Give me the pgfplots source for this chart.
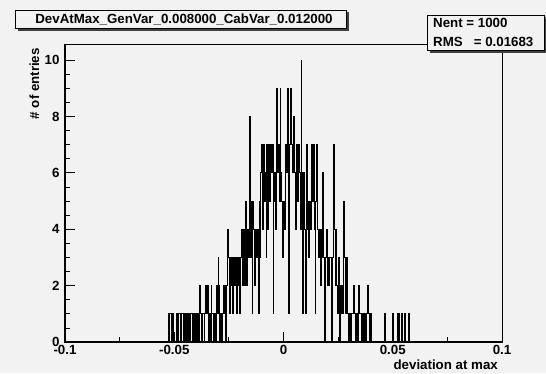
\documentclass[border=0pt]{standalone}
\usepackage{fontspec}
\setmainfont{Liberation Sans}
\usepackage{pgfplots}
\usepackage{pgfplotstable}
\pgfplotsset{compat=1.18}

\definecolor{canvas}{RGB}{242,242,242}
\newcommand\rootfont{\bfseries\fontsize{13.3bp}{16bp}\selectfont}

% counts per bin; bins are 0.0004 wide, the first one starting at -0.056
\pgfplotstableread[row sep=\\]{
c\\
0\\ 0\\ 0\\ 0\\ 0\\ 0\\ 0\\ 0\\
1\\ 0\\ 1\\ 1\\ 0\\ 1\\ 0\\
0\\ 0\\ 0\\
1\\ 0\\ 1\\ 1\\
0\\
1\\ 1\\ 0\\ 1\\ 0\\ 1\\
0\\
1\\ 0\\ 1\\
0\\
1\\ 1\\
0\\
1\\ 0\\ 1\\ 0\\ 1\\ 1\\
0\\
2\\
1\\ 0\\ 1\\ 1\\ 0\\ 1\\
2\\ 1\\ 2\\ 0\\
1\\ 0\\
2\\
1\\ 1\\ 0\\ 1\\ 0\\
2\\ 1\\
3\\
2\\ 0\\
1\\ 0\\ 1\\
2\\ 1\\ 2\\ 0\\ 2\\
4\\
3\\ 1\\ 3\\
2\\ 3\\ 1\\ 3\\ 2\\ 3\\ 1\\ 3\\ 2\\ 3\\ 1\\ 3\\
4\\ 2\\ 4\\ 2\\
5\\
4\\ 2\\ 4\\ 3\\
8\\ 3\\ 5\\ 1\\ 5\\
4\\ 2\\ 4\\ 3\\ 4\\ 1\\
5\\ 3\\ 6\\ 7\\ 4\\ 7\\ 5\\ 6\\ 3\\
7\\ 4\\ 7\\ 5\\ 7\\ 6\\ 7\\ 1\\
5\\ 6\\ 4\\
9\\ 6\\ 7\\ 5\\ 9\\ 6\\
5\\ 3\\ 5\\ 4\\
7\\ 6\\ 7\\ 9\\ 1\\ 7\\ 9\\ 7\\ 6\\ 8\\ 7\\
6\\ 4\\ 7\\ 5\\ 7\\ 6\\ 4\\
10\\
6\\ 1\\ 6\\
4\\ 1\\ 7\\ 4\\
5\\ 3\\ 5\\ 4\\
7\\ 5\\ 7\\ 4\\ 1\\ 5\\ 7\\
4\\ 3\\ 4\\ 2\\ 4\\ 3\\ 6\\
3\\ 0\\
3\\ 4\\ 2\\ 3\\ 2\\ 3\\
3\\ 0\\ 3\\
7\\
4\\ 2\\ 4\\
2\\ 1\\
3\\ 0\\
2\\ 1\\ 2\\ 1\\
5\\
3\\ 1\\ 3\\
1\\ 0\\ 1\\ 1\\
0\\ 1\\ 1\\
2\\
1\\ 0\\ 1\\ 1\\ 0\\
2\\
1\\ 1\\ 0\\ 1\\ 1\\ 0\\
1\\ 0\\ 1\\
2\\
1\\ 0\\ 1\\ 1\\
0\\ 0\\ 0\\ 0\\ 0\\ 0\\ 0\\ 0\\ 0\\ 0\\ 0\\ 0\\ 0\\ 0\\ 0\\
1\\
0\\ 0\\ 0\\ 0\\ 0\\ 0\\ 0\\ 0\\
1\\
0\\ 0\\ 0\\ 0\\
1\\
0\\
1\\
0\\ 0\\
1\\
0\\ 0\\
1\\
0\\ 0\\ 0\\ 0\\
1\\
0\\ 0\\ 0\\
}\hist

\begin{document}
\begin{tikzpicture}[x=1bp,y=1bp]
  % canvas
  \fill[canvas] (0,0) rectangle (546,373);

  \begin{axis}[
    at={(65bp,31bp)}, anchor=south west,
    scale only axis, width=437bp, height=298bp,
    xmin=-0.1, xmax=0.1, ymin=0, ymax=10.57,
    axis background/.style={fill=canvas},
    xtick={-0.1,-0.05,0,0.05,0.1},
    xticklabels={-0.1,-0.05,0,0.05,0.1},
    minor xtick={-0.075,-0.025,0.025,0.075},
    ytick={0,2,4,6,8,10},
    yticklabels={0,2,4,6,8,10},
    minor y tick num=3,
    tick align=inside,
    xtick pos=left, ytick pos=left,
    major tick length=10bp, minor tick length=5bp,
    tick style={black, line width=0.8bp},
    every tick label/.append style={font=\rootfont},
    yticklabel style={xshift=-2bp},
    axis line style={line width=0.8bp},
    scaled x ticks=false,
    after end axis/.code={
      \draw[line width=1.6bp] (rel axis cs:0,1) -- (rel axis cs:0,0) -- (rel axis cs:1,0);
    },
  ]
    \addplot[black, line width=0.85bp, const plot mark left, mark=none]
      table[x expr={-0.056+0.0004*\coordindex}, y=c]{\hist};
  \end{axis}

  % axis titles
  \node[anchor=base east, font=\rootfont, inner sep=0] at (498,3.5) {deviation at max};
  \node[rotate=90, anchor=base east, font=\rootfont, inner sep=0] at (39,325) {\# of entries};

  % histogram title box
  \fill[black!75] (17.5,342.5) rectangle (348.5,360.5);
  \draw[fill=canvas, line width=0.8bp] (15,345) rectangle (346,363);
  \node[font=\rootfont, inner sep=0] at (184,354) {DevAtMax\_GenVar\_0.008000\_CabVar\_0.012000};

  % statistics box
  \fill[black!75] (429.5,320.5) rectangle (546,355.5);
  \draw[fill=canvas, line width=0.8bp] (427,323) rectangle (544.5,358);
  \node[anchor=base west, font=\rootfont, inner sep=0] at (433,345.5) {Nent = 1000};
  \node[anchor=base west, font=\rootfont, inner sep=0] at (433,326.5) {RMS\ \ \ = 0.01683};
\end{tikzpicture}
\end{document}
